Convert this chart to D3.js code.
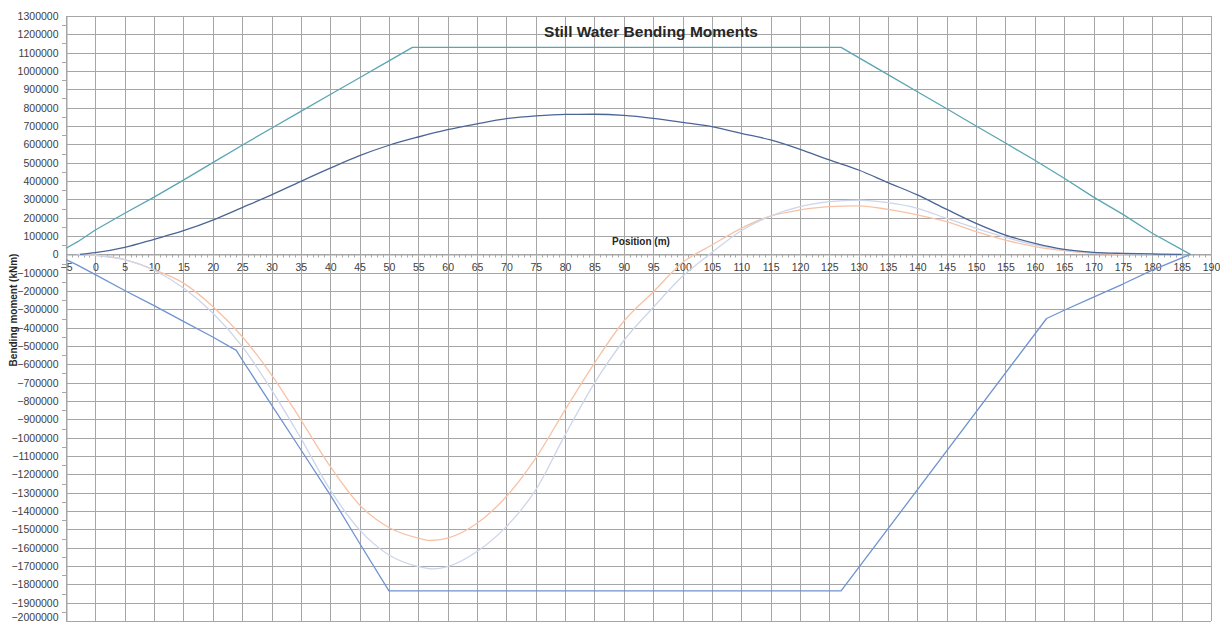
<!DOCTYPE html>
<html>
<head>
<meta charset="utf-8">
<script src="https://cdn.jsdelivr.net/npm/d3@7/dist/d3.min.js"></script>
<style>
  html, body { margin: 0; padding: 0; background: #ffffff; }
  svg { display: block; }
</style>
</head>
<body>
<svg id="chart" width="1220" height="623"></svg>
<script>
// ---------------- DATA ----------------
const chartTitle = "Still Water Bending Moments";
const xTitle = "Position (m)";
const yTitle = "Bending moment (kNm)";

const xTicks = d3.range(-5, 191, 5);
const yTicks = d3.range(-2000000, 1300001, 100000);

// upper envelope (teal)
const upperEnvX = [-5, -3, 0, 5, 10, 15, 20, 25, 30, 35, 40, 45, 50, 54, 127, 130, 135, 140, 145, 150, 155, 160, 165, 170, 175, 180, 186.5];
const upperEnvY = [33000, 69000, 133000, 224000, 312000, 405000, 500000, 595000, 688000, 780000, 872000, 963000, 1055000, 1129000, 1129000, 1073000, 980000, 887000, 794000, 700000, 607000, 513000, 415000, 312000, 218000, 115000, 0];

// lower envelope (blue)
const lowerEnvX = [-5, -3.2, 0, 5, 10, 15, 20, 24, 25, 30, 35, 40, 45, 50, 127, 162, 165, 170, 175, 180, 186.5];
const lowerEnvY = [-29000, -56000, -111000, -197000, -280000, -366000, -451000, -524000, -575000, -821000, -1066000, -1312000, -1576000, -1836000, -1836000, -350000, -305000, -233000, -162000, -86000, 0];

// hogging still water moment (dark blue)
const hogX = [-2.6, 0, 5, 10, 15, 20, 25, 30, 35, 40, 45, 50, 55, 60, 65, 70, 75, 80, 85, 90, 95, 100, 105, 110, 115, 120, 125, 130, 135, 140, 145, 150, 155, 160, 165, 170, 175, 180, 185];
const hogY = [0, 9000, 38000, 82000, 129000, 187000, 255000, 324000, 398000, 470000, 538000, 595000, 640000, 680000, 712000, 740000, 755000, 763000, 764000, 758000, 742000, 720000, 696000, 660000, 624000, 573000, 515000, 460000, 391000, 324000, 245000, 169000, 105000, 60000, 27000, 11000, 5000, 2000, 0];

// sagging condition A (light orange)
const sagAX = [-3, 0, 5, 10, 15, 20, 25, 30, 35, 40, 45, 50, 55, 57, 60, 65, 70, 75, 80, 85, 90, 95, 100, 105, 110, 115, 120, 125, 130, 135, 140, 145, 150, 155, 160, 165, 170, 175];
const sagAY = [0, -5000, -29000, -84000, -157000, -284000, -448000, -657000, -903000, -1157000, -1367000, -1490000, -1548000, -1561000, -1548000, -1467000, -1321000, -1112000, -848000, -593000, -365000, -205000, -45000, 51000, 142000, 209000, 242000, 260000, 264000, 245000, 215000, 178000, 124000, 78000, 42000, 20000, 5000, 0];

// sagging condition B (light lavender)
const sagBX = [-3, 0, 5, 10, 15, 20, 25, 30, 35, 40, 45, 50, 55, 57.5, 60, 65, 70, 75, 80, 85, 90, 95, 100, 105, 110, 115, 120, 125, 130, 135, 140, 145, 150, 155, 160, 165, 170, 175, 180];
const sagBY = [0, -5000, -29000, -87000, -184000, -320000, -502000, -739000, -1003000, -1285000, -1503000, -1640000, -1703000, -1716000, -1703000, -1621000, -1485000, -1285000, -985000, -702000, -470000, -290000, -120000, 10000, 129000, 209000, 260000, 287000, 296000, 282000, 251000, 196000, 142000, 93000, 51000, 24000, 9000, 2000, 0];

// ---------------- CHART ----------------
const svg = d3.select("#chart");
const font = "'Liberation Sans', Arial, sans-serif";

const x = d3.scaleLinear().domain([-5, 190]).range([66, 1211]);
const y = d3.scaleLinear().domain([-2000000, 1300000]).range([621, 16]);

const gridColor = "#a6a6a6";

// horizontal grid
svg.append("g").selectAll("line").data(yTicks).join("line")
  .attr("x1", x(-5)).attr("x2", x(190))
  .attr("y1", d => Math.round(y(d)) + 0.5).attr("y2", d => Math.round(y(d)) + 0.5)
  .attr("stroke", gridColor).attr("stroke-width", 1);

// vertical grid
svg.append("g").selectAll("line").data(xTicks).join("line")
  .attr("x1", d => Math.round(x(d)) + 0.5).attr("x2", d => Math.round(x(d)) + 0.5)
  .attr("y1", y(1300000)).attr("y2", y(-2000000))
  .attr("stroke", gridColor).attr("stroke-width", 1);

// Y axis
const yAxis = d3.axisLeft(y).tickValues(yTicks).tickSize(0).tickPadding(8).tickFormat(d3.format("d"));
const yG = svg.append("g").attr("transform", `translate(${Math.round(x(-5)) + 0.5},0)`).call(yAxis);
yG.select(".domain").attr("stroke", gridColor);
yG.selectAll("text").attr("font-family", font).attr("font-size", 10.5).attr("fill", "#404040");
// keep the bottom-most label inside the frame
yG.selectAll(".tick").filter(d => d === -2000000).select("text").attr("dy", "-0.05em");
// minor y ticks
svg.append("g").selectAll("line").data(d3.range(-1950000, 1300000, 100000)).join("line")
  .attr("x1", Math.round(x(-5)) - 4).attr("x2", Math.round(x(-5)))
  .attr("y1", d => Math.round(y(d)) + 0.5).attr("y2", d => Math.round(y(d)) + 0.5)
  .attr("stroke", gridColor);

// X axis at zero
const y0 = Math.round(y(0)) + 0.5;
const xAxis = d3.axisBottom(x).tickValues(xTicks).tickSize(0).tickPadding(9).tickFormat(d3.format("d"));
const xG = svg.append("g").attr("transform", `translate(0,${y0})`).call(xAxis);
xG.select(".domain").attr("stroke", gridColor);
xG.selectAll("text").attr("font-family", font).attr("font-size", 10.5).attr("fill", "#404040");
// minor x ticks
svg.append("g").selectAll("line").data(d3.range(-4, 190, 1).filter(d => d % 5 !== 0)).join("line")
  .attr("x1", d => Math.round(x(d)) + 0.5).attr("x2", d => Math.round(x(d)) + 0.5)
  .attr("y1", y0).attr("y2", y0 + 3)
  .attr("stroke", gridColor);

// series
function drawSeries(xs, ys, color, curve) {
  const pts = xs.map((v, i) => [v, ys[i]]);
  const line = d3.line().x(d => x(d[0])).y(d => y(d[1])).curve(curve);
  svg.append("path").datum(pts)
    .attr("d", line).attr("fill", "none")
    .attr("stroke", color).attr("stroke-width", 1.3)
    .attr("stroke-linejoin", "round");
}
drawSeries(lowerEnvX, lowerEnvY, "#6f93d2", d3.curveLinear);
drawSeries(upperEnvX, upperEnvY, "#5aa5b4", d3.curveLinear);
drawSeries(sagAX, sagAY, "#f7c2a6", d3.curveMonotoneX);
drawSeries(sagBX, sagBY, "#cdd5ea", d3.curveMonotoneX);
drawSeries(hogX, hogY, "#4a6596", d3.curveMonotoneX);

// titles
svg.append("text").attr("x", 651).attr("y", 37).attr("text-anchor", "middle")
  .attr("font-family", font).attr("font-weight", "bold").attr("font-size", 15.5).attr("fill", "#262626")
  .text(chartTitle);

svg.append("text").attr("x", 641).attr("y", 245).attr("text-anchor", "middle")
  .attr("font-family", font).attr("font-weight", "bold").attr("font-size", 10).attr("fill", "#262626")
  .text(xTitle);

svg.append("text").attr("transform", "translate(17,310) rotate(-90)").attr("text-anchor", "middle")
  .attr("font-family", font).attr("font-weight", "bold").attr("font-size", 10).attr("fill", "#262626")
  .text(yTitle);
</script>
</body>
</html>
